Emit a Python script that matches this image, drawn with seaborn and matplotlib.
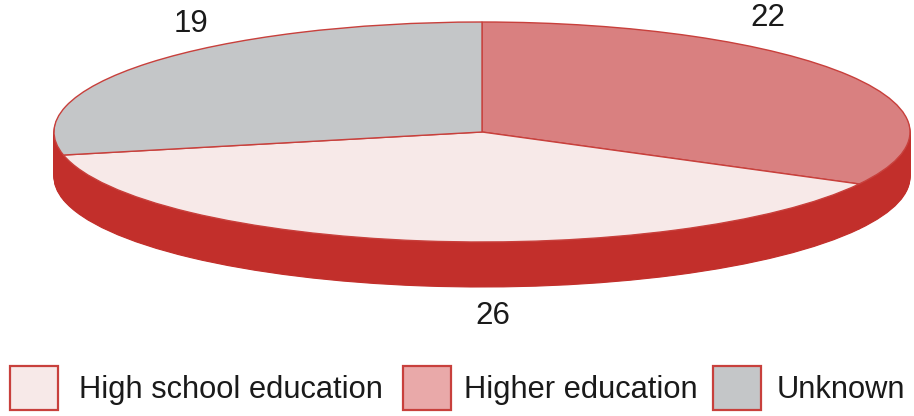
import matplotlib
matplotlib.use("Agg")
import matplotlib.pyplot as plt
from matplotlib.patches import Patch
import numpy as np
import seaborn as sns

# Values, clockwise from twelve o'clock
categories = ["Higher education", "High school education", "Unknown"]
values = [22, 26, 19]
legend_order = ["High school education", "Higher education", "Unknown"]

pie_colors = {"Higher education": "#d98080",
              "High school education": "#f7e9e8",
              "Unknown": "#c4c6c8"}
legend_colors = {"High school education": "#f7e9e8",
                 "Higher education": "#e9a9a9",
                 "Unknown": "#c4c6c8"}
edge_red = "#c8403c"
side_red = "#c22f2b"
text_color = "#1a1a1a"

sns.set_theme(style="white")
plt.rcParams["font.family"] = ["Liberation Sans", "DejaVu Sans"]

W, H = 914, 416
cx, cy, rx, ry, depth = 482, 132, 428, 110, 45

fig = plt.figure(figsize=(W / 100, H / 100), dpi=100)
ax = fig.add_axes([0, 0, 1, 1])


def draw_pie(offset, colors, edge, lw):
    ax.pie(values, startangle=90, counterclock=False, colors=colors,
           center=(0, -offset / ry), radius=1,
           wedgeprops=dict(edgecolor=edge, linewidth=lw))


# side wall: the same pie stacked downwards in dark red
for off in np.arange(depth, 0, -1):
    draw_pie(off, [side_red] * len(values), side_red, 0.8)

# top face
draw_pie(0, [pie_colors[c] for c in categories], edge_red, 1.0)

ax.set_aspect("auto")
ax.set_xlim(-cx / rx, (W - cx) / rx)
ax.set_ylim(-(H - cy) / ry, cy / ry)
ax.axis("off")


def px(x, y):
    return ((x - cx) / rx, (cy - y) / ry)


# value labels
ax.text(*px(191, 24), str(values[2]), fontsize=22.5, color=text_color, ha="center", va="center")
ax.text(*px(768, 18), str(values[0]), fontsize=22.5, color=text_color, ha="center", va="center")
ax.text(*px(493, 316), str(values[1]), fontsize=22.5, color=text_color, ha="center", va="center")

# one small legend per entry, the gaps in the original are uneven
legend_x = [10, 403, 713]
legend_pad = [0.7, 0.42, 0.5]
for name, lx, pad in zip(legend_order, legend_x, legend_pad):
    handle = Patch(facecolor=legend_colors[name], edgecolor=edge_red, linewidth=1.6, label=name)
    leg = ax.legend(handles=[handle], loc="center left", bbox_to_anchor=(lx / W, 1 - 388 / H),
                    frameon=False, fontsize=22.2, handlelength=1.55, handleheight=1.84,
                    handletextpad=pad, borderpad=0, borderaxespad=0, labelcolor=text_color)
    ax.add_artist(leg)
    ax.legend_ = None  # otherwise the last one is drawn twice

fig.savefig("out.png", dpi=100)
